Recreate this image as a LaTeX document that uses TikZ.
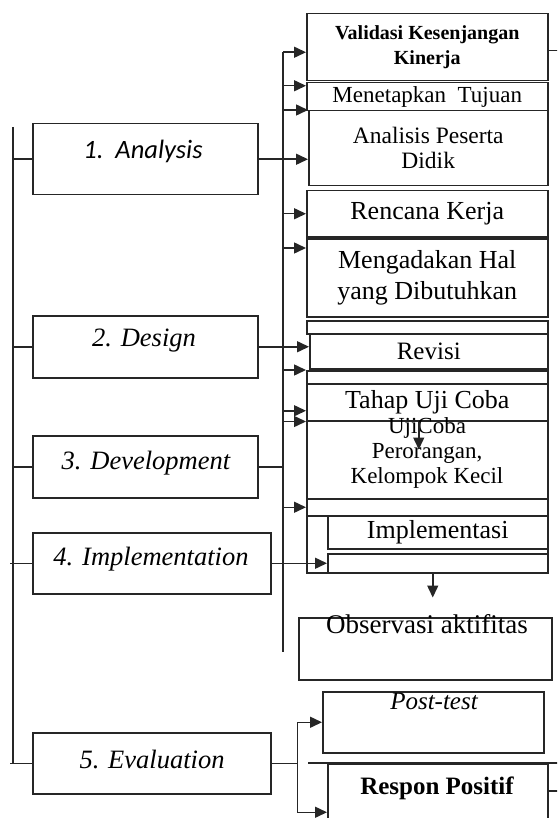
\documentclass[tikz,border=0pt]{standalone}
\usepackage{fontspec}
\setmainfont{Liberation Serif}
\newfontfamily\calfont{Carlito}
\usetikzlibrary{arrows.meta}
\tikzset{
  figlines/.style={line width=1.5pt, draw=black!85},
  phase/.style={figlines, rectangle, inner sep=0pt, anchor=north west},
  task/.style={figlines, rectangle, inner sep=0pt, anchor=north west, align=center,
    font=\fontsize{25}{27}\selectfont},
  phno/.style={font=\fontsize{26.5}{28}\selectfont\itshape},
  tasktxt/.style={align=center, inner sep=0pt, font=\fontsize{23}{25}\selectfont},
  link/.style={figlines},
  arr/.style={figlines, -{Triangle[length=12pt,width=11pt]}},
}

\begin{document}
\begin{tikzpicture}[x=1pt, y=-1pt]
\useasboundingbox (0,0) rectangle (557,818);
\clip (0,0) rectangle (557,818);

% left column: the five phases
\node[phase, minimum width=225pt, minimum height=71pt] (analysis) at (32,123) {};
\node[phase, minimum width=225pt, minimum height=62pt] (design) at (32,315) {};
\node[phase, minimum width=225pt, minimum height=62pt] (develop) at (32,435) {};
\node[phase, minimum width=238pt, minimum height=61pt] (implement) at (32,532) {};
\node[phase, minimum width=238pt, minimum height=61pt] (evaluate) at (32,732) {};
\node[phno, font=\calfont\fontsize{26.5}{28}\selectfont\itshape] (tanalysis) at (143,151) {1.\ \ Analysis};
\node[phno] (tdesign) at (144,341) {2. Design};
\node[phno] (tdevelop) at (146,463) {3. Development};
\node[phno] (timplement) at (151,559) {4. Implementation};
\node[phno] (tevaluate) at (152,759) {5. Evaluation};

% right column: the steps
\node[task, minimum width=241pt, minimum height=67pt, font=\fontsize{20}{25}\selectfont\bfseries]
  (validasi) at (306,13) {Validasi Kesenjangan\\Kinerja};
\node[task, minimum width=241pt, minimum height=28pt, font=\fontsize{23}{25}\selectfont]
  (menetapkan) at (306,82) {Menetapkan\ \ Tujuan};
\node[task, minimum width=239pt, minimum height=75pt, font=\fontsize{23.5}{25}\selectfont]
  (anapd) at (308,110) {Analisis Peserta\\Didik};
\node[task, minimum width=241pt, minimum height=46pt, font=\fontsize{26}{28}\selectfont]
  (rencana) at (306,190) {Rencana Kerja};
\node[task, minimum width=241pt, minimum height=78pt, font=\fontsize{26}{31}\selectfont]
  (mengadakan) at (306,238) {Mengadakan Hal\\yang Dibutuhkan};
\node[task, minimum width=241pt, minimum height=13pt] (gapa) at (306,320) {};
\node[task, minimum width=238pt, minimum height=35pt] (revisi) at (309,333) {Revisi};
\node[task, minimum width=241pt, minimum height=13pt] (gapb) at (306,370) {};
\node[task, minimum width=241pt, minimum height=37pt, font=\fontsize{26}{28}\selectfont]
  (tahap) at (306,383) {Tahap Uji Coba};
\node[task, minimum width=241pt, minimum height=78pt] (ujicoba) at (306,420) {};
\node[tasktxt] (tujicoba) at (427,453) {UjiCoba\\Perorangan,\\Kelompok Kecil};
\node[task, minimum width=241pt, minimum height=17pt] (gapc) at (306,498) {};
\node[task, minimum width=241pt, minimum height=57pt] (impl) at (306,515) {};
\node[task, minimum width=220pt, minimum height=33pt, font=\fontsize{26}{28}\selectfont]
  (implup) at (327,515) {Implementasi};
\node[task, minimum width=220pt, minimum height=19pt] (impllow) at (327,553) {};
\node[task, minimum width=253pt, minimum height=62pt] (observasi) at (298,617) {};
\node[tasktxt, font=\fontsize{27}{29}\selectfont] (tobservasi) at (427,624) {Observasi aktifitas};
\node[task, minimum width=221pt, minimum height=61pt] (post) at (322,691) {};
\node[tasktxt, font=\fontsize{25}{27}\selectfont\itshape] (tpost) at (434,701) {Post-test};
\node[task, minimum width=220pt, minimum height=97pt] (respon) at (327,763) {};
\node[tasktxt, font=\fontsize{25}{27}\selectfont\bfseries] (trespon) at (437,788) {Respon Positif};

% buses
\coordinate (lbtop) at (13,127);
\coordinate (lbbot) at (13,763);
\coordinate (rbtop) at (283,52);
\coordinate (rbbot) at (283,652);
\draw[link] (lbtop) -- (lbbot);
\draw[link] (rbtop) -- (rbbot);
\foreach \ph in {analysis, design, develop}
  \draw[link] (\ph.west) -- (\ph.west -| lbtop);
\draw[link] (implement.west) -- ++(-22,0);
\draw[link] (evaluate.west) -- ++(-22,0);

% phases to steps
\draw[arr] (analysis.east) -- (analysis.east -| anapd.west);
\draw[arr] (design.east) -- (design.east -| revisi.west);
\draw[link] (develop.east) -- (develop.east -| rbtop);
\draw[arr] (implement.east) -- (implement.east -| impllow.west);
\draw[link] (evaluate.east) -- ++(26,0) coordinate (evfork);
\draw[arr] (evfork) |- (post.west);
\draw[arr] (evfork) |- (respon.west);

% bus to steps
\coordinate (inval) at ([yshift=-5pt]validasi.west);
\coordinate (inmen) at ([yshift=11pt]menetapkan.west);
\coordinate (inhal) at ([yshift=-10pt]mengadakan.north west);
\coordinate (intahap) at ([yshift=-8.5pt]tahap.west);
\foreach \tgt in {inval, inmen, anapd.north west, rencana.west, inhal,
                  gapb.north west, intahap, tahap.south west, gapc.west}
  \draw[arr] (rbtop |- \tgt) -- (\tgt);

% downward arrows and loose ends
\draw[arr] ([xshift=-8.5pt]tahap.south) -- ++(0,28);
\draw[arr] ([xshift=5.5pt]impl.south) -- ++(0,24);
\draw[link] ([yshift=-3.5pt]validasi.east) -- ++(12,0);
\draw[link] ([yshift=21.5pt]respon.east) -- ++(12,0);
\draw[link] ([xshift=-19pt]respon.north west) -- (respon.north east) -- ++(12,0);
\end{tikzpicture}
\end{document}
